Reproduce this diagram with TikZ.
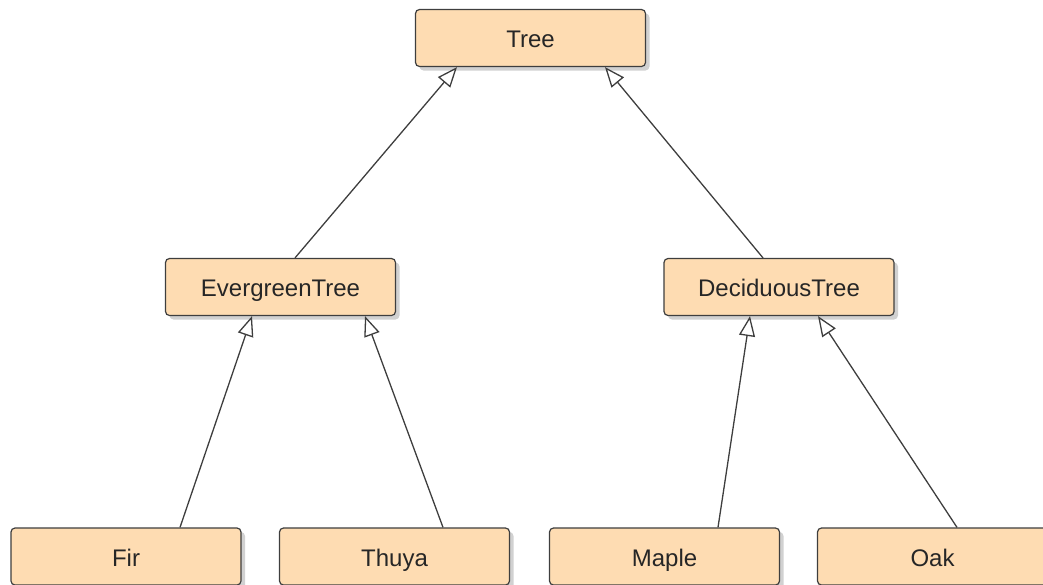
\documentclass[tikz,border=0pt]{standalone}
\usepackage{fontspec}
\setmainfont{Liberation Sans}
\usetikzlibrary{arrows.meta,positioning,shadows}

\definecolor{boxfill}{RGB}{254,220,178}
\definecolor{boxline}{RGB}{62,62,62}

\begin{document}
\begin{tikzpicture}[x=1pt,y=-1pt,on grid,
	cls/.style={draw=boxline,fill=boxfill,line width=1.2pt,rounded corners=4pt,
		minimum width=230pt,minimum height=57pt,inner sep=0pt,
		text height=19.5pt,text depth=0pt,
		font=\fontsize{24}{28}\selectfont,text=black!85,
		drop shadow={shadow xshift=4pt,shadow yshift=-4pt,fill=black!18,opacity=1}},
	gen/.style={draw=boxline,line width=1.3pt,-{Triangle[open,length=20pt,width=16pt,fill=white]}}]
		\useasboundingbox (0,0) rectangle (1043,584);
		\node (t) [cls] at (530.5,38) {Tree};
		\node (e) [cls] [below left = 249pt and 250pt of t] {EvergreenTree};
		\node (d) [cls] [below right = 249pt and 248.5pt of t] {DeciduousTree};
		\node (f) [cls] [below left = 269.5pt and 154.5pt of e] {Fir};
		\node (th) [cls] [below right = 269.5pt and 114pt of e] {Thuya};
		\node (m) [cls] [below left = 269.5pt and 114.5pt of d] {Maple};
		\node (o) [cls] [below right = 269.5pt and 153.5pt of d] {Oak};
		\path ([xshift=14.5pt]e.north) edge[gen] ([xshift=-73.5pt]t.south);
		\path ([xshift=-16pt]d.north) edge[gen] ([xshift=74.5pt]t.south);
		\path ([xshift=54pt]f.north) edge[gen] ([xshift=-28.5pt]e.south);
		\path ([xshift=48.5pt]th.north) edge[gen] ([xshift=84.5pt]e.south);
		\path ([xshift=53.5pt]m.north) edge[gen] ([xshift=-29pt]d.south);
		\path ([xshift=24.5pt]o.north) edge[gen] ([xshift=39pt]d.south);
		
\end{tikzpicture}
\end{document}
